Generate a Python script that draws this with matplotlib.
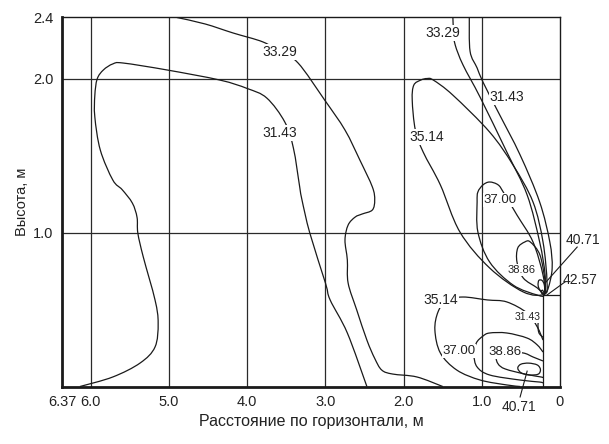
import matplotlib
matplotlib.use("Agg")
import matplotlib.pyplot as plt
from matplotlib.path import Path
from matplotlib.patches import PathPatch

plt.rcParams['font.family'] = ['Liberation Sans', 'DejaVu Sans']

# ---- axis ticks ----
x_ticks = [6.37, 6.0, 5.0, 4.0, 3.0, 2.0, 1.0, 0.0]
x_tick_labels = ["6.37", "6.0", "5.0", "4.0", "3.0", "2.0", "1.0", "0"]
y_ticks = [1.0, 2.0, 2.4]
y_tick_labels = ["1.0", "2.0", "2.4"]
x_grid = [6.0, 5.0, 4.0, 3.0, 2.0, 1.0]
y_grid = [1.0, 2.0]

# ---- isotherms (x = horizontal distance, m ; y = height, m) ----
iso3143_main_x = [6.14, 5.72, 5.37, 5.18, 5.14, 5.18, 5.33, 5.40, 5.41, 5.47, 5.60, 5.72, 5.88, 5.95, 5.95, 5.92, 5.84, 5.72,
                  5.59, 5.03, 4.35, 4.00, 3.75, 3.52, 3.41, 3.33, 3.30, 3.20, 3.00, 2.94, 2.72, 2.47]
iso3143_main_y = [0.0, 0.062, 0.153, 0.257, 0.413, 0.563, 0.842, 0.998, 1.10, 1.193, 1.28, 1.343, 1.538, 1.753, 1.893, 2.0,
                  2.059, 2.098, 2.104, 2.059, 1.993, 1.938, 1.876, 1.720, 1.551, 1.30, 1.213, 0.998, 0.673, 0.563, 0.348, 0.0]

iso3329_main_x = [4.90, 4.54, 4.18, 3.80, 3.58, 3.35, 3.01, 2.75, 2.56, 2.40, 2.37, 2.40, 2.53, 2.62, 2.71, 2.75, 2.72, 2.71,
                  2.60, 2.47, 2.37, 2.28, 2.14, 1.83, 1.50]
iso3329_main_y = [2.40, 2.358, 2.299, 2.241, 2.176, 2.104, 1.863, 1.668, 1.473, 1.298, 1.213, 1.148, 1.122, 1.102, 1.050,
                  0.953, 0.823, 0.673, 0.498, 0.302, 0.183, 0.107, 0.081, 0.062, 0.0]

iso3329_right_x = [1.37, 1.36, 1.34, 1.24, 1.02, 0.68, 0.42, 0.26, 0.19, 0.20]
iso3329_right_y = [2.40, 2.30, 2.221, 2.091, 1.88, 1.525, 1.246, 0.94, 0.725, 0.60]

iso3143_right_x = [1.16, 1.15, 1.06, 0.985, 0.79, 0.51, 0.26, 0.13, 0.10, 0.15, 0.20]
iso3143_right_y = [2.40, 2.18, 2.072, 1.98, 1.785, 1.506, 1.20, 0.94, 0.771, 0.64, 0.60]

iso3514_upper_x = [0.20, 0.47, 0.90, 1.28, 1.53, 1.75, 1.85, 1.89, 1.87, 1.78, 1.70, 1.62, 1.37, 0.90, 0.60, 0.345,
                   0.217, 0.166, 0.20]
iso3514_upper_y = [0.60, 0.615, 0.771, 1.005, 1.311, 1.525, 1.668, 1.863, 1.96, 1.993, 2.003, 1.993, 1.895, 1.655,
                   1.44, 1.20, 0.94, 0.68, 0.60]

iso3700_upper_x = [0.20, 0.29, 0.60, 0.90, 1.05, 1.06, 1.05, 0.985, 0.90, 0.79, 0.72, 0.55, 0.345, 0.217, 0.20]
iso3700_upper_y = [0.60, 0.595, 0.66, 0.81, 1.005, 1.20, 1.265, 1.311, 1.33, 1.311, 1.26, 1.115, 0.94, 0.725, 0.60]

iso3886_upper_x = [0.20, 0.29, 0.47, 0.55, 0.54, 0.45, 0.38, 0.256, 0.19, 0.20]
iso3886_upper_y = [0.60, 0.641, 0.706, 0.81, 0.901, 0.94, 0.94, 0.855, 0.68, 0.60]

iso4071_upper_x = [0.20, 0.26, 0.28, 0.27, 0.23, 0.20, 0.20]
iso4071_upper_y = [0.60, 0.63, 0.66, 0.69, 0.69, 0.66, 0.60]

iso4257_x = [0.20, 0.23, 0.24, 0.22, 0.20]
iso4257_y = [0.60, 0.605, 0.62, 0.625, 0.60]

iso3514_lower_x = [0.217, 0.29, 0.42, 0.68, 0.93, 1.24, 1.45, 1.56, 1.60, 1.53, 1.32, 1.02, 0.68, 0.51]
iso3514_lower_y = [0.302, 0.387, 0.478, 0.55, 0.563, 0.582, 0.56, 0.485, 0.367, 0.218, 0.107, 0.042, 0.010, 0.0]

iso3143_lower_x = [0.25, 0.28, 0.27, 0.217]
iso3143_lower_y = [0.45, 0.41, 0.35, 0.32]

iso3700_lower_x = [0.217, 0.29, 0.42, 0.68, 0.90, 0.985, 1.07, 1.10, 1.06, 0.90, 0.51, 0.26, 0.217]
iso3700_lower_y = [0.224, 0.270, 0.315, 0.348, 0.348, 0.328, 0.283, 0.205, 0.127, 0.075, 0.042, 0.029, 0.023]

iso3886_lower_x = [0.217, 0.345, 0.47, 0.70, 0.81, 0.79, 0.70, 0.45, 0.243, 0.217]
iso3886_lower_y = [0.166, 0.192, 0.218, 0.224, 0.192, 0.146, 0.114, 0.081, 0.062, 0.058]

iso4071_lower_x = [0.54, 0.50, 0.40, 0.29, 0.25, 0.28, 0.40, 0.50, 0.54]
iso4071_lower_y = [0.12, 0.145, 0.152, 0.14, 0.11, 0.08, 0.075, 0.09, 0.12]

# heater / wall outline
wall_x = [0.217, 0.217, 0.0]
wall_y = [0.0, 0.595, 0.595]

# ---- inline labels ----
label_text = ["31.43", "33.29", "33.29", "31.43", "35.14", "37.00", "38.86", "35.14", "31.43", "37.00", "38.86"]
label_x = [3.58, 3.59, 1.50, 0.68, 1.70, 0.77, 0.49, 1.52, 0.41, 1.29, 0.70]
label_y = [1.649, 2.176, 2.299, 1.883, 1.623, 1.213, 0.758, 0.563, 0.452, 0.23, 0.224]
label_size = [10, 10, 10, 10, 10, 9.5, 8, 10, 7.5, 9.5, 9.5]

# ---- outside labels with leader lines ----
callout_text = ["40.71", "42.57", "40.71"]
callout_tx = [-0.30, -0.26, 0.52]
callout_ty = [0.95, 0.693, -0.135]
leader_x0 = [-0.22, -0.064, 0.51]
leader_y0 = [0.907, 0.680, -0.068]
leader_x1 = [0.19, 0.166, 0.42]
leader_y1 = [0.673, 0.595, 0.10]


def smooth_path(xs, ys):
    """Smooth curve through the given points (Catmull-Rom drawn as cubic Bezier)."""
    pts = list(zip(xs, ys))
    n = len(pts)
    closed = n > 6 and abs(xs[0] - xs[-1]) < 1e-9 and abs(ys[0] - ys[-1]) < 1e-9
    verts = [pts[0]]
    codes = [Path.MOVETO]
    for i in range(n - 1):
        p0 = pts[i - 1] if i > 0 else (pts[-2] if closed else pts[i])
        p1 = pts[i]
        p2 = pts[i + 1]
        p3 = pts[i + 2] if i + 2 < n else (pts[1] if closed else pts[i + 1])
        c1 = (p1[0] + (p2[0] - p0[0]) / 6.0, p1[1] + (p2[1] - p0[1]) / 6.0)
        c2 = (p2[0] - (p3[0] - p1[0]) / 6.0, p2[1] - (p3[1] - p1[1]) / 6.0)
        verts += [c1, c2, p2]
        codes += [Path.CURVE4, Path.CURVE4, Path.CURVE4]
    return Path(verts, codes)


fig = plt.figure(figsize=(6.09, 4.44), dpi=100)
ax = fig.add_axes([0.1018, 0.1295, 0.8177, 0.8311])
ax.set_xlim(6.37, 0.0)
ax.set_ylim(0.0, 2.4)

line_color = '#1a1a1a'
for g in x_grid:
    ax.axvline(g, color='#2a2a2a', lw=0.9, zorder=1)
for g in y_grid:
    ax.axhline(g, color='#2a2a2a', lw=0.9, zorder=1)

curves = [
    (iso3143_main_x, iso3143_main_y), (iso3329_main_x, iso3329_main_y),
    (iso3329_right_x, iso3329_right_y), (iso3143_right_x, iso3143_right_y),
    (iso3514_upper_x, iso3514_upper_y), (iso3700_upper_x, iso3700_upper_y),
    (iso3886_upper_x, iso3886_upper_y), (iso4071_upper_x, iso4071_upper_y),
    (iso4257_x, iso4257_y), (iso3514_lower_x, iso3514_lower_y),
    (iso3143_lower_x, iso3143_lower_y), (iso3700_lower_x, iso3700_lower_y),
    (iso3886_lower_x, iso3886_lower_y), (iso4071_lower_x, iso4071_lower_y),
]
for cx, cy in curves:
    ax.add_patch(PathPatch(smooth_path(cx, cy), facecolor='none', edgecolor=line_color,
                           lw=0.9, zorder=2))

ax.plot(wall_x, wall_y, color=line_color, lw=0.9, zorder=2)

for t, lx, ly, s in zip(label_text, label_x, label_y, label_size):
    ax.text(lx, ly, t, fontsize=s, ha='center', va='center', color='#222222', zorder=4,
            bbox=dict(boxstyle='square,pad=0.05', fc='white', ec='none'))

for t, tx, ty, x0, y0, x1, y1 in zip(callout_text, callout_tx, callout_ty, leader_x0, leader_y0, leader_x1, leader_y1):
    ax.plot([x0, x1], [y0, y1], color=line_color, lw=0.8, clip_on=False, zorder=3)
    ax.text(tx, ty, t, fontsize=10, ha='center', va='center', color='#222222', clip_on=False)

ax.set_xticks(x_ticks)
ax.set_xticklabels(x_tick_labels, fontsize=10.5, color='#222222')
ax.set_yticks(y_ticks)
ax.set_yticklabels(y_tick_labels, fontsize=10.5, color='#222222')
ax.tick_params(length=0, pad=6)

for side in ['left', 'bottom']:
    ax.spines[side].set_linewidth(2.0)
for side in ['top', 'right']:
    ax.spines[side].set_linewidth(1.0)
for sp in ax.spines.values():
    sp.set_color('#1a1a1a')

ax.set_xlabel("Расстояние по горизонтали, м", fontsize=11.5, color='#222222', labelpad=4)
ax.set_ylabel("Высота, м", fontsize=10.5, color='#222222', labelpad=3)

fig.savefig("out.png", dpi=100)
